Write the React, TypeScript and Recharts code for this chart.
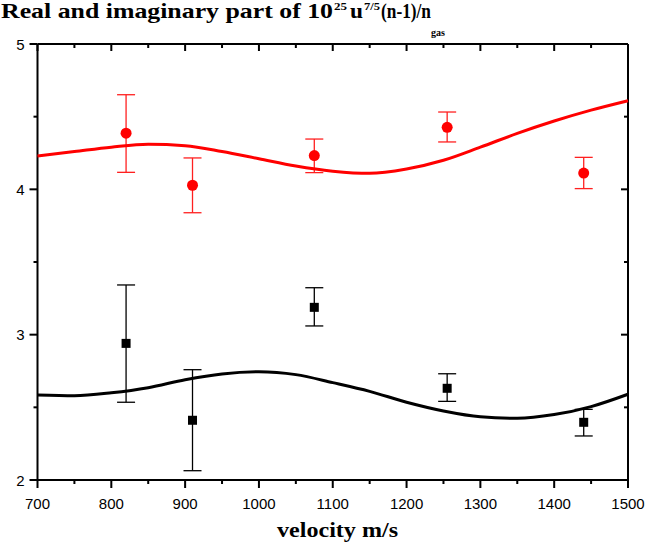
import React from "react";
import { ComposedChart, Line, Scatter, XAxis, YAxis, ErrorBar, ReferenceLine } from "recharts";

const CURVE_V = [700, 750, 800, 850, 900, 950, 1000, 1050, 1100, 1150, 1200, 1250, 1300, 1350, 1400, 1450, 1500];
const REAL_FIT = [4.23, 4.26, 4.29, 4.31, 4.3, 4.26, 4.21, 4.16, 4.125, 4.11, 4.14, 4.2, 4.29, 4.385, 4.47, 4.545, 4.61];
const IMAG_FIT = [2.585, 2.58, 2.6, 2.635, 2.69, 2.73, 2.745, 2.725, 2.67, 2.61, 2.535, 2.475, 2.435, 2.425, 2.45, 2.505, 2.59];

// measured points with error bar ends
const POINT_V = [820, 910, 1075, 1255, 1440];
const REAL_Y = [4.386, 4.028, 4.232, 4.427, 4.112];
const REAL_LO = [4.117, 3.839, 4.115, 4.326, 4.005];
const REAL_HI = [4.651, 4.216, 4.346, 4.532, 4.22];
const IMAG_Y = [2.94, 2.411, 3.188, 2.631, 2.397];
const IMAG_LO = [2.535, 2.064, 3.06, 2.541, 2.303];
const IMAG_HI = [3.342, 2.759, 3.323, 2.731, 2.486];

const X_MAJOR = [700, 800, 900, 1000, 1100, 1200, 1300, 1400, 1500];
const X_MINOR = [750, 850, 950, 1050, 1150, 1250, 1350, 1450];
const Y_MAJOR = [2, 3, 4, 5];
const Y_MINOR = [2.5, 3.5, 4.5];
const X_DOMAIN = [700, 1500];
const Y_DOMAIN = [2, 5];

const SANS = "'Liberation Sans', Arial, sans-serif";
const SERIF = "'Liberation Serif', 'Times New Roman', serif";

const W = 669;
const H = 550;
const MARGIN = { top: 44, right: 41, bottom: 40, left: 0 };
const Y_AXIS_W = 37.5;
const X_AXIS_H = 30;
const PLOT_L = MARGIN.left + Y_AXIS_W;
const PLOT_T = MARGIN.top;
const PLOT_B = H - MARGIN.bottom - X_AXIS_H;
// pixels per data unit
const PX_X = (W - MARGIN.right - PLOT_L) / (X_DOMAIN[1] - X_DOMAIN[0]);
const PX_Y = (PLOT_B - PLOT_T) / (Y_DOMAIN[1] - Y_DOMAIN[0]);
const xPix = (v: number) => PLOT_L + (v - X_DOMAIN[0]) * PX_X;

const realFit = CURVE_V.map((x, i) => ({ x, y: REAL_FIT[i] }));
const imagFit = CURVE_V.map((x, i) => ({ x, y: IMAG_FIT[i] }));
const realPts = POINT_V.map((x, i) => ({ x, y: REAL_Y[i], err: [REAL_Y[i] - REAL_LO[i], REAL_HI[i] - REAL_Y[i]] }));
const imagPts = POINT_V.map((x, i) => ({ x, y: IMAG_Y[i], err: [IMAG_Y[i] - IMAG_LO[i], IMAG_HI[i] - IMAG_Y[i]] }));

// y tick marks as short segments: left point out, right point in
const ySegs: { x: number; y: number }[][] = [];
const addY = (v: number, out: number, inn: number) => {
  ySegs.push([{ x: X_DOMAIN[0], y: v }, { x: X_DOMAIN[0] - out / PX_X, y: v }]);
  ySegs.push([{ x: X_DOMAIN[1], y: v }, { x: X_DOMAIN[1] - inn / PX_X, y: v }]);
};
Y_MAJOR.forEach((v) => addY(v, 8, 7));
Y_MINOR.forEach((v) => addY(v, 4, 4));

// x tick marks: bottom point out, top point in
const xMarks = [
  ...X_MAJOR.map((v) => ({ v, out: 8, inn: 7 })),
  ...X_MINOR.map((v) => ({ v, out: 4, inn: 4 })),
];

const BottomLabel = (p: any) => (
  <text x={p.x} y={p.y + 21} textAnchor="middle" fontSize={15} fontFamily={SANS} fill="#000">
    {p.payload.value}
  </text>
);

const LeftLabel = (p: any) => (
  <text x={p.x - 5} y={p.y + 5.5} textAnchor="end" fontSize={15} fontFamily={SANS} fill="#000">
    {p.payload.value}
  </text>
);

const Dot = (p: any) => <circle cx={p.cx} cy={p.cy} r={5.5} fill="#ff0000" />;
const Square = (p: any) => <rect x={p.cx - 4.5} y={p.cy - 4.5} width={9} height={9} fill="#000" />;

const ink = { xAxisId: "b", yAxisId: "l", stroke: "#000", strokeWidth: 2, ifOverflow: "visible" as const };

export default function App() {
  return (
    <div style={{ position: "absolute", left: 0, top: 0, width: W, height: H, background: "#fff" }}>
      <ComposedChart width={W} height={H} margin={MARGIN}>
        <XAxis xAxisId="b" dataKey="x" type="number" domain={X_DOMAIN} ticks={X_MAJOR} interval={0}
          height={X_AXIS_H} tickSize={8} tickMargin={0} tickLine={false} axisLine={false} tick={BottomLabel} />
        <YAxis yAxisId="l" dataKey="y" type="number" domain={Y_DOMAIN} ticks={Y_MAJOR} interval={0}
          width={Y_AXIS_W} tickSize={8} tickMargin={0} tickLine={false} axisLine={false} tick={LeftLabel} />
        <ReferenceLine {...ink} x={X_DOMAIN[0]} />
        <ReferenceLine {...ink} x={X_DOMAIN[1]} />
        <ReferenceLine {...ink} y={Y_DOMAIN[0]} />
        <ReferenceLine {...ink} y={Y_DOMAIN[1]} />
        {ySegs.map((seg, i) => (
          <ReferenceLine key={"y" + i} {...ink} segment={seg} />
        ))}
        <Scatter xAxisId="b" yAxisId="l" data={imagPts} shape={Square} isAnimationActive={false}>
          <ErrorBar dataKey="err" direction="y" width={9} stroke="#000" strokeWidth={1.3} />
        </Scatter>
        <Scatter xAxisId="b" yAxisId="l" data={realPts} shape={Dot} isAnimationActive={false}>
          <ErrorBar dataKey="err" direction="y" width={9} stroke="#ff2020" strokeWidth={1.3} />
        </Scatter>
        <Line xAxisId="b" yAxisId="l" data={imagFit} dataKey="y" type="monotone" stroke="#000" strokeWidth={3}
          dot={false} activeDot={false} isAnimationActive={false} />
        <Line xAxisId="b" yAxisId="l" data={realFit} dataKey="y" type="monotone" stroke="#ff0000" strokeWidth={3}
          dot={false} activeDot={false} isAnimationActive={false} />
      </ComposedChart>
      <svg width={W} height={H} style={{ position: "absolute", left: 0, top: 0, pointerEvents: "none" }}>
        <g fill="#000">
          {xMarks.map((m, i) => (
            <g key={i}>
              <rect x={xPix(m.v) - 1} y={PLOT_B} width={2} height={m.out} />
              <rect x={xPix(m.v) - 1} y={PLOT_T} width={2} height={m.inn} />
            </g>
          ))}
        </g>
        <g fontFamily={SERIF} fontWeight="bold" fill="#000">
          <text x={1} y={17.5} fontSize={21} textLength={332} lengthAdjust="spacingAndGlyphs">Real and imaginary part of 10</text>
          <text x={334} y={10} fontSize={10} textLength={13} lengthAdjust="spacingAndGlyphs">25</text>
          <text x={350} y={17.5} fontSize={21} textLength={13} lengthAdjust="spacingAndGlyphs">u</text>
          <text x={364} y={10} fontSize={10} textLength={16} lengthAdjust="spacingAndGlyphs">7/5</text>
          <text x={381} y={17.5} fontSize={21} textLength={50} lengthAdjust="spacingAndGlyphs">(n-1)/n</text>
          <text x={431} y={35.5} fontSize={10} textLength={14} lengthAdjust="spacingAndGlyphs">gas</text>
          <text x={277} y={537} fontSize={20} textLength={121} lengthAdjust="spacingAndGlyphs">velocity m/s</text>
        </g>
      </svg>
    </div>
  );
}
